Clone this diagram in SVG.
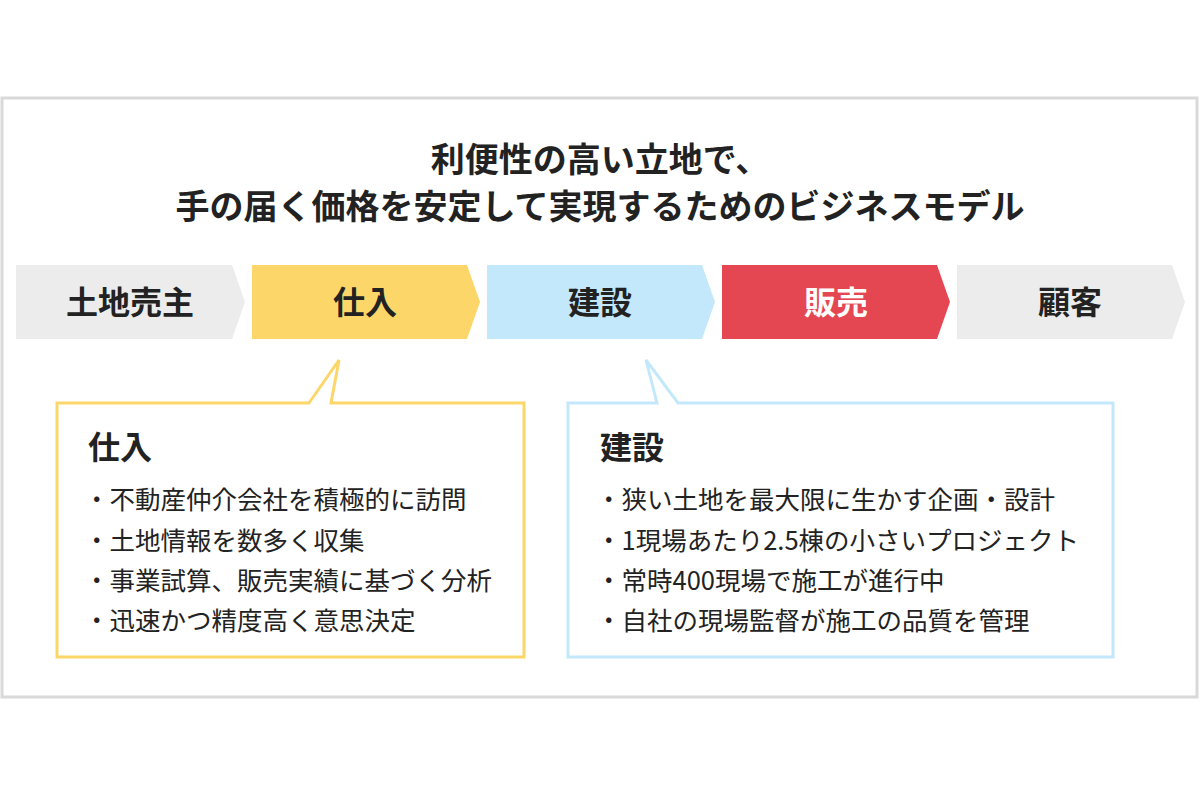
<svg xmlns="http://www.w3.org/2000/svg" width="1200" height="798" viewBox="0 0 1200 798">
<style>
text{font-family:"Noto Sans CJK JP","Noto Sans",sans-serif;fill:#222}
.t{font-size:34px;font-weight:bold;text-anchor:middle}
.c{font-size:32px;font-weight:bold;text-anchor:middle}
.h{font-size:32px;font-weight:bold}
.b{font-size:25.5px}
</style>
<rect x="0" y="0" width="1200" height="798" fill="#fff"/>
<rect x="2" y="98" width="1195" height="599" fill="#fff" stroke="#d9d9d9" stroke-width="3"/>
<text class="t" x="600" y="172">利便性の高い立地で、</text>
<text class="t" x="600" y="219">手の届く価格を安定して実現するためのビジネスモデル</text>
<g id="n1"><polygon points="16,265 232,265 245,302 232,339 16,339" fill="#ececec"/><text class="c" x="130" y="314">土地売主</text></g>
<g id="n2"><polygon points="252,265 467,265 480,302 467,339 252,339" fill="#fdd669"/><text class="c" x="365" y="314">仕入</text></g>
<g id="n3"><polygon points="487,265 702,265 715,302 702,339 487,339" fill="#c3e8fb"/><text class="c" x="600" y="314">建設</text></g>
<g id="n4"><polygon points="722,265 937,265 950,302 937,339 722,339" fill="#e44652"/><text class="c" x="836" y="314" style="fill:#fff">販売</text></g>
<g id="n5"><polygon points="957,265 1172,265 1185,302 1172,339 957,339" fill="#ececec"/><text class="c" x="1070" y="314">顧客</text></g>
<g id="callout1">
<path d="M309,403 L339,360 L331,403 L524,403 L524,657 L57,657 L57,403 Z" fill="#fff" stroke="#fdd669" stroke-width="3"/>
<text class="h" x="88" y="459">仕入</text>
<text class="b" x="84" y="509">・不動産仲介会社を積極的に訪問</text>
<text class="b" x="84" y="550">・土地情報を数多く収集</text>
<text class="b" x="84" y="590">・事業試算、販売実績に基づく分析</text>
<text class="b" x="84" y="630">・迅速かつ精度高く意思決定</text>
</g>
<g id="callout2">
<path d="M657,403 L646,360 L678,403 L1113,403 L1113,657 L568,657 L568,403 Z" fill="#fff" stroke="#c3e8fb" stroke-width="3"/>
<text class="h" x="600" y="459">建設</text>
<text class="b" x="596" y="509">・狭い土地を最大限に生かす企画・設計</text>
<text class="b" x="596" y="550">・1現場あたり2.5棟の小さいプロジェクト</text>
<text class="b" x="596" y="590">・常時400現場で施工が進行中</text>
<text class="b" x="596" y="630">・自社の現場監督が施工の品質を管理</text>
</g>
<g id="connectors"></g>
</svg>
